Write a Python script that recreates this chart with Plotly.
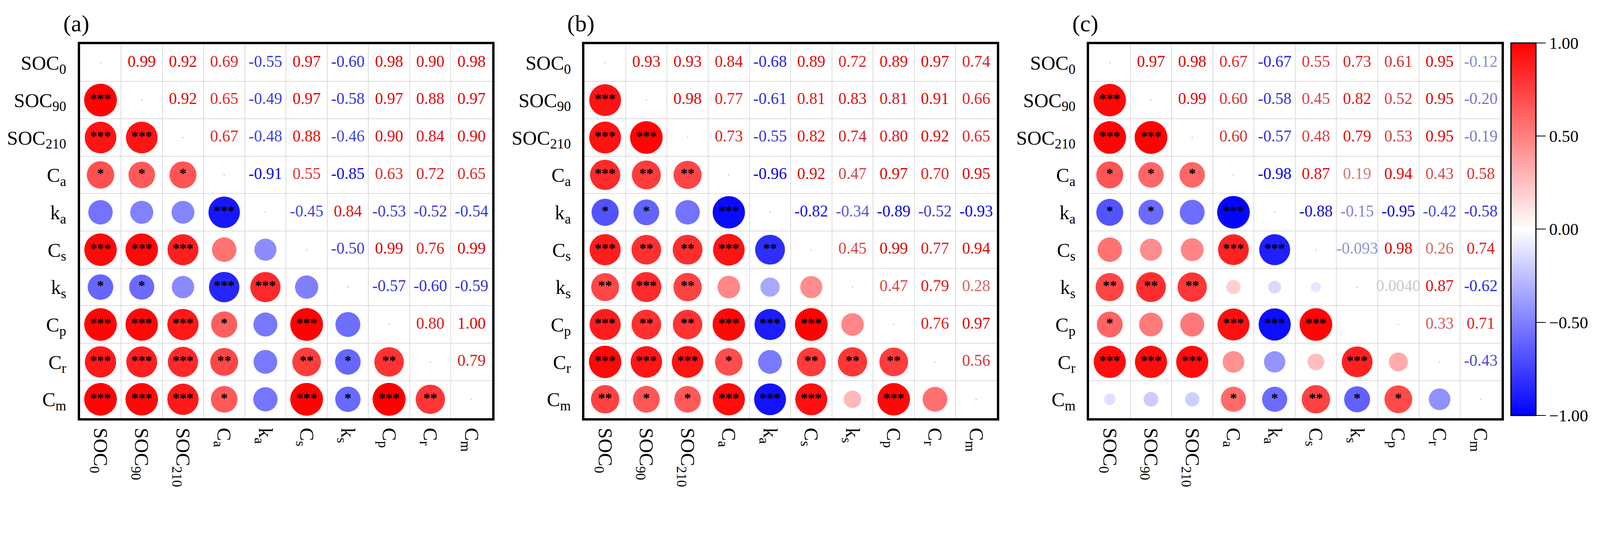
import plotly.graph_objects as go

# variable names (shared by all three panels)
labels = ['SOC<sub>0</sub>', 'SOC<sub>90</sub>', 'SOC<sub>210</sub>', 'C<sub>a</sub>', 'k<sub>a</sub>',
          'C<sub>s</sub>', 'k<sub>s</sub>', 'C<sub>p</sub>', 'C<sub>r</sub>', 'C<sub>m</sub>']
panel_names = ['(a)', '(b)', '(c)']

# upper triangle correlation values, row i holds r(i, j) for j > i
r_a = [
    [0.99, 0.92, 0.69, -0.55, 0.97, -0.60, 0.98, 0.90, 0.98],
    [0.92, 0.65, -0.49, 0.97, -0.58, 0.97, 0.88, 0.97],
    [0.67, -0.48, 0.88, -0.46, 0.90, 0.84, 0.90],
    [-0.91, 0.55, -0.85, 0.63, 0.72, 0.65],
    [-0.45, 0.84, -0.53, -0.52, -0.54],
    [-0.50, 0.99, 0.76, 0.99],
    [-0.57, -0.60, -0.59],
    [0.80, 1.00],
    [0.79],
]
r_b = [
    [0.93, 0.93, 0.84, -0.68, 0.89, 0.72, 0.89, 0.97, 0.74],
    [0.98, 0.77, -0.61, 0.81, 0.83, 0.81, 0.91, 0.66],
    [0.73, -0.55, 0.82, 0.74, 0.80, 0.92, 0.65],
    [-0.96, 0.92, 0.47, 0.97, 0.70, 0.95],
    [-0.82, -0.34, -0.89, -0.52, -0.93],
    [0.45, 0.99, 0.77, 0.94],
    [0.47, 0.79, 0.28],
    [0.76, 0.97],
    [0.56],
]
r_c = [
    [0.97, 0.98, 0.67, -0.67, 0.55, 0.73, 0.61, 0.95, -0.12],
    [0.99, 0.60, -0.58, 0.45, 0.82, 0.52, 0.95, -0.20],
    [0.60, -0.57, 0.48, 0.79, 0.53, 0.95, -0.19],
    [-0.98, 0.87, 0.19, 0.94, 0.43, 0.58],
    [-0.88, -0.15, -0.95, -0.42, -0.58],
    [-0.093, 0.98, 0.26, 0.74],
    [0.0040, 0.87, -0.62],
    [0.33, 0.71],
    [-0.43],
]

# significance marks, lower triangle, row i holds marks for j < i
stars_a = [
    ['***'],
    ['***', '***'],
    ['*', '*', '*'],
    ['', '', '', '***'],
    ['***', '***', '***', '', ''],
    ['*', '*', '', '***', '***', ''],
    ['***', '***', '***', '*', '', '***', ''],
    ['***', '***', '***', '**', '', '**', '*', '**'],
    ['***', '***', '***', '*', '', '***', '*', '***', '**'],
]
stars_b = [
    ['***'],
    ['***', '***'],
    ['***', '**', '**'],
    ['*', '*', '', '***'],
    ['***', '**', '**', '***', '**'],
    ['**', '***', '**', '', '', ''],
    ['***', '**', '**', '***', '***', '***', ''],
    ['***', '***', '***', '*', '', '**', '**', '**'],
    ['**', '*', '*', '***', '***', '***', '', '***', ''],
]
stars_c = [
    ['***'],
    ['***', '***'],
    ['*', '*', '*'],
    ['*', '*', '', '***'],
    ['', '', '', '***', '***'],
    ['**', '**', '**', '', '', ''],
    ['*', '', '', '***', '***', '***', ''],
    ['***', '***', '***', '', '', '', '***', ''],
    ['', '', '', '*', '*', '**', '*', '*', ''],
]

# the browser shows 4096 css px across the 4366 px photo, page body has an 8 px margin
S = 4096 / 4366
OFF = 8
W, H = 4080, 1276

bwr = [[0, 'rgb(0,0,255)'], [0.5, 'rgb(255,255,255)'], [1, 'rgb(255,0,0)']]
FONT = 'Liberation Serif'
n = len(labels)


def px(v):
    return v * S


def fx(p):
    return (p * S - OFF) / W


def fy(p):
    return 1 - (p * S - OFF) / H


def fmt(v):
    if abs(v) >= 0.1:
        return f'{v:.2f}'
    return f'{v:#.2g}'


def text_color(v):
    t = min(1.0, abs(v) ** 0.5)
    c = int(215 * (1 - t))
    if v >= 0:
        return f'rgb({int(200 + 25 * t)},{c},{c})'
    return f'rgb({c},{c},{int(200 + 25 * t)})'


# plot area (inside the frame) in photo pixels
boxes_x = [(218, 1343), (1595, 2720), (2972, 4097)]
box_y = (120, 1140)

fig = go.Figure()

for k, (upper, stars) in enumerate([(r_a, stars_a), (r_b, stars_b), (r_c, stars_c)]):
    xa = 'x' if k == 0 else f'x{k + 1}'
    ya = 'y' if k == 0 else f'y{k + 1}'

    # full matrix
    mat = [[1.0] * n for _ in range(n)]
    for i, row in enumerate(upper):
        for m, v in enumerate(row):
            j = i + 1 + m
            mat[i][j] = v
            mat[j][i] = v

    cx, cy, cv, st = [], [], [], []
    for i in range(1, n):
        for j in range(i):
            cx.append(j)
            cy.append(i)
            cv.append(mat[i][j])
            st.append(stars[i - 1][j])

    fig.add_trace(go.Scatter(
        x=cx, y=cy, mode='markers', xaxis=xa, yaxis=ya,
        marker=dict(size=[abs(v) for v in cv], sizemode='area', sizeref=2.0 / px(90) ** 2,
                    color=cv, colorscale=bwr, cmin=-1, cmax=1, line=dict(width=0),
                    opacity=1, showscale=(k == 2),
                    colorbar=dict(
                        x=fx(4123.5), xanchor='left', y=fy(625), yanchor='middle',
                        len=px(1016) / H, lenmode='fraction', thickness=px(68),
                        outlinewidth=3, outlinecolor='black', xpad=0, ypad=0,
                        tickvals=[-1, -0.5, 0, 0.5, 1], tickformat='.2f',
                        ticks='outside', ticklen=round(px(26)), tickwidth=2, tickcolor='black',
                        tickfont=dict(family=FONT, size=px(46), color='black'),
                    )),
        hoverinfo='skip', showlegend=False,
    ))
    sx = [x for x, s in zip(cx, st) if s]
    sy = [y for y, s in zip(cy, st) if s]
    fig.add_trace(go.Scatter(
        x=sx, y=sy, mode='text', text=[s for s in st if s], xaxis=xa, yaxis=ya,
        textposition='middle center',
        textfont=dict(family=FONT, size=px(38), color='black', weight='bold'),
        hoverinfo='skip', showlegend=False,
    ))

    ux, uy, ut, uc = [], [], [], []
    for i in range(n):
        for j in range(i + 1, n):
            ux.append(j)
            uy.append(i)
            ut.append(fmt(mat[i][j]))
            uc.append(text_color(mat[i][j]))
    fig.add_trace(go.Scatter(
        x=ux, y=uy, mode='text', text=ut, xaxis=xa, yaxis=ya,
        textposition='middle center', cliponaxis=False,
        textfont=dict(family=FONT, size=px(44), color=uc),
        hoverinfo='skip', showlegend=False,
    ))

    fig.add_trace(go.Scatter(
        x=list(range(n)), y=list(range(n)), mode='markers', xaxis=xa, yaxis=ya,
        marker=dict(size=3, color='#b4b4b4'),
        hoverinfo='skip', showlegend=False,
    ))

    x0, x1 = boxes_x[k]
    axis_common = dict(
        range=[-0.5, n - 0.5], tickmode='array', tickvals=list(range(n)), ticktext=labels,
        showgrid=False, zeroline=False, showline=True, mirror=True, automargin=False,
        linecolor='black', linewidth=px(6), ticks='',
        tickfont=dict(family=FONT, size=px(54), color='black'),
        minor=dict(tickmode='array', tickvals=[i + 0.5 for i in range(n - 1)],
                   showgrid=True, gridcolor='#dcdcdc', gridwidth=2, ticks=''),
    )
    xkey = 'xaxis' if k == 0 else f'xaxis{k + 1}'
    ykey = 'yaxis' if k == 0 else f'yaxis{k + 1}'
    fig.update_layout({
        xkey: dict(axis_common, domain=[fx(x0), fx(x1)], anchor=ya, tickangle=90,
                   ticklabelstandoff=round(px(10))),
        ykey: dict(axis_common, domain=[fy(box_y[1]), fy(box_y[0])], anchor=xa,
                   range=[n - 0.5, -0.5], ticklabelstandoff=round(px(20))),
    })

    fig.add_annotation(
        text=panel_names[k], xref='paper', yref='paper',
        x=fx(x0 - 10), y=fy(63), xanchor='center', yanchor='middle',
        showarrow=False, font=dict(family=FONT, size=px(64), color='black'),
    )

fig.update_layout(
    width=W, height=H,
    margin=dict(l=0, r=0, t=0, b=0),
    paper_bgcolor='white', plot_bgcolor='white',
    font=dict(family=FONT, color='black'),
)

fig.write_html('out.html')
